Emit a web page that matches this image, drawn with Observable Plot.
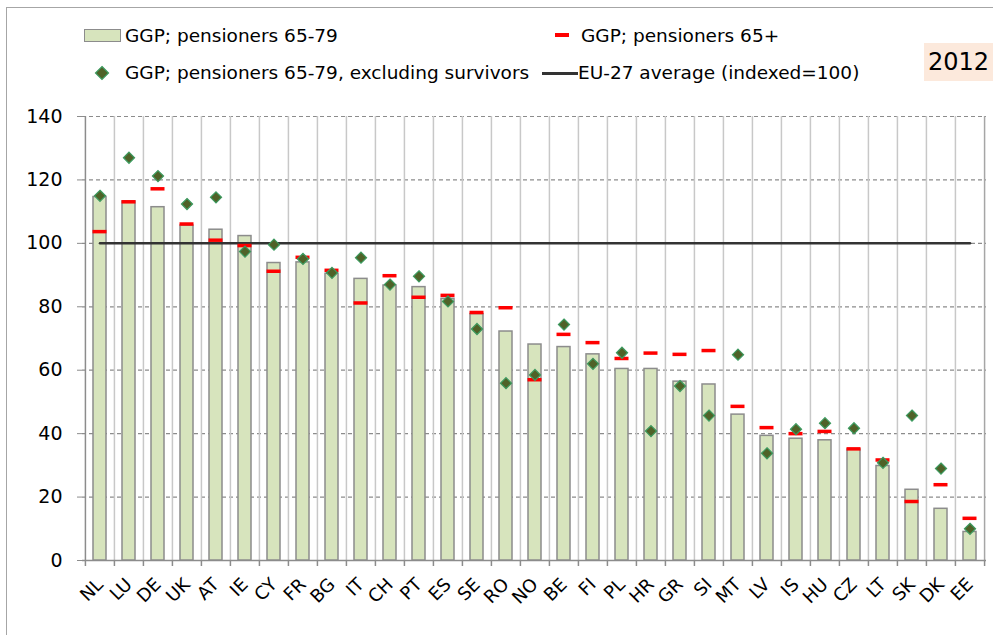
<!DOCTYPE html>
<html><head><meta charset="utf-8">
<script src="https://cdn.jsdelivr.net/npm/d3@7"></script>
<script src="https://cdn.jsdelivr.net/npm/@observablehq/plot@0.6"></script>
<style>
body{margin:0;background:#fff;font-family:"DejaVu Sans",sans-serif;}
#wrap{position:relative;width:993px;height:635px;overflow:hidden;background:#fff;}
#border{position:absolute;left:6px;top:7px;width:1100px;height:800px;border-top:1px solid #a6a6a6;border-left:1px solid #a6a6a6;}
.lg{position:absolute;font-size:18.5px;color:#000;white-space:nowrap;line-height:20px;height:20px;}
.sw{position:absolute;}
#year{position:absolute;left:924px;top:43px;width:69px;height:38px;background:#fce9dc;font-size:24px;line-height:38px;text-align:center;color:#000;}
#chart{position:absolute;left:0;top:100px;}
</style></head>
<body>
<div id="wrap">
  <div id="border"></div>
  <div class="sw" style="left:84px;top:29px;width:35px;height:11px;background:#d7e4bd;border:1.5px solid #8c8c8c;"></div>
  <div class="lg" style="left:125px;top:26px;">GGP; pensioners 65-79</div>
  <div class="sw" style="left:555px;top:33px;width:14px;height:4px;background:#ff0000;"></div>
  <div class="lg" style="left:581px;top:26px;">GGP; pensioners 65+</div>
  <svg class="sw" style="left:94px;top:65px;" width="16" height="16"><path d="M8,1.5 L14.5,8 L8,14.5 L1.5,8Z" fill="#4f6228" stroke="#3c9a5f" stroke-width="1.2"/></svg>
  <div class="lg" style="left:125px;top:63px;">GGP; pensioners 65-79, excluding survivors</div>
  <div class="sw" style="left:542px;top:72px;width:36px;height:2.5px;background:#333;"></div>
  <div class="lg" style="left:578px;top:63px;">EU-27 average (indexed=100)</div>
  <div id="year">2012</div>
  <div id="chart"></div>
</div>
<script>
const countries = ["NL","LU","DE","UK","AT","IE","CY","FR","BG","IT","CH","PT","ES","SE","RO","NO","BE","FI","PL","HR","GR","SI","MT","LV","IS","HU","CZ","LT","SK","DK","EE"];
const ggp6579 = [114.6,113.2,111.4,105.6,104.3,102.3,93.8,94.0,90.4,88.8,86.7,86.2,82.5,77.7,72.2,68.1,67.3,65.0,60.4,60.4,56.4,55.5,46.0,39.3,38.4,37.9,35.0,29.8,22.3,16.3,9.0];
const ggp65plus = [103.7,113.1,117.2,106.1,101.0,99.3,91.2,95.6,91.5,81.2,89.8,83.0,83.6,78.2,79.7,57.0,71.3,68.7,63.7,65.4,65.0,66.2,48.6,41.9,40.0,40.7,35.2,31.7,18.6,23.9,13.3];
const ggpExclSurvivors = [115.0,127.0,121.2,112.4,114.5,97.4,99.6,95.1,90.7,95.5,87.0,89.6,81.7,73.0,55.9,58.5,74.4,62.0,65.5,40.8,55.0,45.7,64.9,33.8,41.4,43.3,41.7,30.8,45.7,29.0,10.0];
const euAverage = 100;
const yTicks = [0,20,40,60,80,100,120,140];

const W = 993, H = 535, ML = 82, MR = 7, MT = 16, MB = 75;
const bw = (W - ML - MR) / countries.length;
const rows = countries.map((c, i) => ({c, bar: ggp6579[i], p65: ggp65plus[i], excl: ggpExclSurvivors[i], eu: euAverage}));
const last = [countries[countries.length - 1]];
const first = [countries[0]];

const chart = Plot.plot({
  width: W, height: H,
  marginLeft: ML, marginRight: MR, marginTop: MT, marginBottom: MB,
  style: {fontFamily: "DejaVu Sans", background: "none", overflow: "visible", color: "#000"},
  x: {domain: countries, padding: 0, label: null},
  y: {domain: [0, 140], label: null},
  marks: [
    Plot.gridY(yTicks.filter(v => v > 0), {stroke: "#8c8c8c", strokeOpacity: 1, strokeDasharray: "4,3", strokeWidth: 1.2}),
    Plot.ruleX(countries.slice(1), {x: d => d, y1: 140, y2: 0, dx: -bw / 2, stroke: "#c8c8c8", strokeWidth: 1.5}),
    Plot.ruleX(last, {x: d => d, y1: 140, y2: 0, dx: bw / 2, stroke: "#a6a6a6", strokeWidth: 1.5}),
    Plot.ruleX(countries, {x: d => d, y1: 0, y2: 0, insetBottom: -6, dx: -bw / 2, stroke: "#8c8c8c", strokeWidth: 1.5}),
    Plot.ruleX(last, {x: d => d, y1: 0, y2: 0, insetBottom: -6, dx: bw / 2, stroke: "#8c8c8c", strokeWidth: 1.5}),
    Plot.ruleX(first, {x: d => d, y1: 140, y2: 0, dx: -bw / 2, stroke: "#8c8c8c", strokeWidth: 1.5}),
    Plot.ruleY([0], {stroke: "#8c8c8c", strokeWidth: 1.5}),
    Plot.axisY({ticks: yTicks, tickSize: 5, tickPadding: 15, fontSize: 19, stroke: "#8c8c8c", fill: "#000", label: null}),
    Plot.axisX({tickSize: 0, tickRotate: -45, fontSize: 18, tickPadding: 21, fill: "#000", label: null}),
    Plot.barY(rows, {x: "c", y: "bar", fill: "#d7e4bd", stroke: "#8c8c8c", strokeWidth: 1.5, insetLeft: 8, insetRight: 8}),
    Plot.lineY(rows, {x: "c", y: "eu", stroke: "#333333", strokeWidth: 2.5}),
    Plot.tickY(rows, {x: "c", y: "p65", stroke: "#ff0000", strokeWidth: 3.5, insetLeft: 7.5, insetRight: 7.5}),
    Plot.dot(rows, {x: "c", y: "excl", symbol: "diamond2", r: 5, fill: "#4f6228", stroke: "#3c9a5f", strokeWidth: 1.2})
  ]
});
document.getElementById("chart").appendChild(chart);
</script>
</body></html>
